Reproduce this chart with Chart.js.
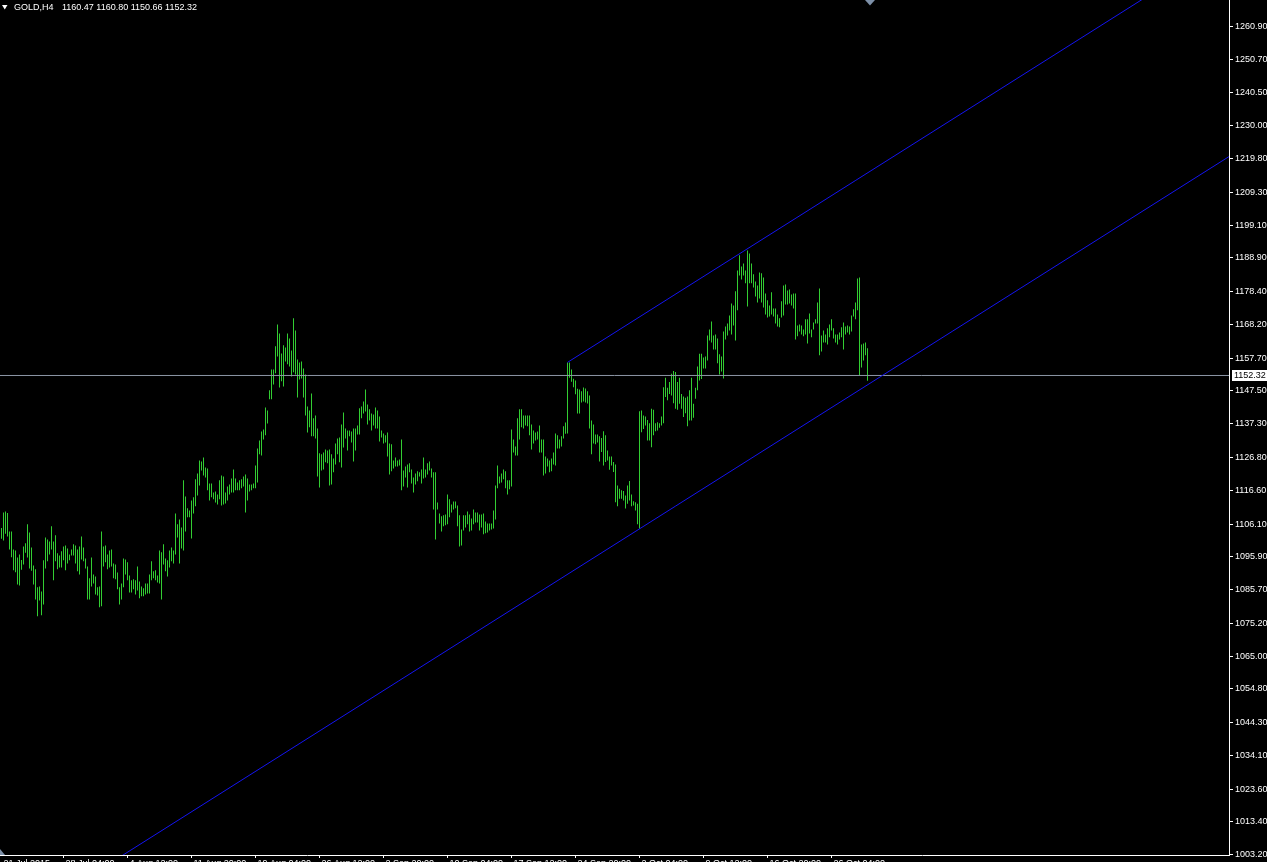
<!DOCTYPE html>
<html>
<head>
<meta charset="utf-8">
<style>
  html, body { margin: 0; padding: 0; background: #000; overflow: hidden; }
  #wrap { width: 1267px; height: 862px; }
</style>
<script src="https://cdn.jsdelivr.net/npm/chart.js@4.4.1/dist/chart.umd.min.js"></script>
</head>
<body>
<div id="wrap"><canvas id="chart" width="1267" height="862"></canvas></div>
<script>
const symbol = 'GOLD,H4';
const lastBar = [1160.47, 1160.80, 1150.66, 1152.32]; // open, high, low, close

// H4 bar highs / lows, oldest first
const highs = [
  1104.9,1109.7,1110.0,1109.5,1103.8,1103.8,1098.2,1097.9,1095.7,1096.6,
  1094.9,1099.1,1100.1,1106.0,1103.5,1098.8,1093.2,1092.0,1086.4,1086.7,
  1085.1,1094.8,1101.9,1101.3,1100.7,1105.4,1100.7,1102.6,1097.0,1096.3,
  1097.6,1099.1,1099.4,1098.5,1096.6,1098.2,1099.8,1099.4,1098.2,1099.1,
  1102.2,1098.8,1095.4,1092.9,1089.2,1095.7,1090.4,1089.8,1086.4,1086.7,
  1103.8,1099.1,1099.4,1096.6,1097.9,1098.2,1093.8,1093.5,1091.0,1086.4,
  1087.6,1095.4,1095.1,1094.2,1090.1,1088.6,1088.9,1088.6,1092.9,1088.2,
  1086.7,1086.1,1087.6,1087.6,1090.4,1094.5,1091.4,1091.7,1090.1,1097.9,
  1097.3,1099.8,1095.4,1094.8,1097.9,1098.8,1097.9,1109.4,1106.0,1107.5,
  1105.0,1119.7,1114.7,1111.0,1110.3,1113.4,1114.4,1120.0,1121.8,1125.9,
  1125.6,1126.8,1123.7,1123.4,1118.7,1118.7,1115.9,1116.2,1115.3,1119.7,
  1121.2,1120.9,1115.9,1117.8,1118.4,1120.3,1123.1,1120.3,1119.0,1119.7,
  1120.0,1120.9,1121.5,1120.3,1118.4,1118.4,1118.7,1124.3,1129.6,1132.1,
  1134.9,1135.5,1142.4,1141.4,1147.7,1154.2,1154.2,1161.4,1168.2,1165.4,
  1159.2,1161.7,1161.0,1165.4,1163.8,1160.1,1170.1,1166.3,1157.3,1156.4,
  1156.7,1154.5,1152.6,1142.7,1141.4,1146.7,1139.0,1139.9,1135.8,1128.1,
  1127.8,1128.4,1129.3,1129.0,1129.3,1127.8,1126.5,1131.2,1132.7,1133.0,
  1137.1,1140.8,1135.8,1135.2,1135.2,1134.9,1135.8,1135.8,1136.8,1142.1,
  1142.7,1144.2,1148.0,1143.3,1141.8,1140.5,1140.2,1142.4,1141.4,1139.6,
  1135.2,1134.3,1133.7,1134.6,1131.2,1130.9,1125.9,1126.8,1125.9,1126.2,
  1132.4,1122.8,1124.0,1124.6,1125.0,1123.1,1120.6,1121.8,1122.5,1122.2,
  1123.1,1126.8,1123.1,1125.0,1125.6,1123.4,1122.2,1122.2,1112.8,1109.4,
  1108.5,1108.8,1109.1,1115.3,1113.8,1112.2,1113.1,1113.1,1111.9,1108.8,
  1104.4,1108.8,1108.8,1110.0,1109.1,1107.8,1110.6,1109.7,1109.7,1109.1,
  1109.1,1109.4,1106.9,1106.3,1106.3,1106.3,1110.3,1118.1,1124.3,1120.9,
  1121.8,1123.1,1122.5,1119.7,1119.7,1135.5,1132.4,1130.2,1139.0,1141.8,
  1141.8,1139.9,1139.9,1139.9,1139.9,1137.1,1135.2,1134.6,1134.9,1136.8,
  1132.4,1132.4,1127.1,1126.5,1125.9,1126.5,1128.4,1134.3,1133.7,1132.4,
  1133.4,1136.5,1137.7,1156.4,1156.4,1154.2,1151.3,1150.8,1148.2,1148.0,
  1147.4,1148.6,1148.3,1147.4,1146.1,1138.3,1137.1,1134.0,1134.0,1133.4,
  1132.9,1135.0,1133.7,1129.0,1127.1,1127.1,1125.4,1124.6,1118.1,1117.1,
  1116.6,1116.4,1115.0,1118.1,1119.5,1115.3,1113.2,1112.9,1112.4,1141.2,
  1141.4,1139.9,1139.6,1138.5,1137.5,1142.0,1141.7,1137.5,1137.8,1137.5,
  1139.6,1148.7,1151.6,1148.5,1150.3,1152.9,1153.7,1153.4,1150.3,1151.6,
  1146.6,1145.8,1145.4,1145.8,1147.7,1151.6,1143.5,1148.5,1155.1,1159.1,
  1159.1,1157.9,1158.2,1164.8,1166.6,1169.1,1164.8,1165.1,1163.8,1158.9,
  1158.2,1166.0,1167.6,1168.5,1171.0,1174.7,1174.1,1178.5,1185.0,1189.7,
  1186.2,1187.2,1185.0,1191.2,1190.3,1187.2,1183.8,1181.6,1180.3,1184.4,
  1184.1,1182.8,1177.8,1175.7,1174.1,1178.2,1173.2,1173.2,1171.3,1170.1,
  1175.4,1180.3,1180.6,1178.8,1179.1,1177.5,1177.8,1177.8,1167.9,1168.2,
  1167.9,1166.6,1169.8,1169.8,1171.6,1166.6,1168.8,1169.8,1175.0,1179.4,
  1164.8,1166.3,1165.1,1167.0,1168.2,1169.8,1167.0,1165.1,1165.1,1165.7,
  1167.3,1168.8,1167.6,1167.9,1167.6,1171.0,1172.9,1175.0,1182.5,1182.8,
  1162.0,1162.3,1162.6,1160.8
];
const lows = [
  1101.5,1101.0,1103.1,1102.2,1098.2,1095.8,1091.7,1091.1,1087.3,1087.0,
  1091.9,1093.5,1097.2,1095.7,1092.3,1091.6,1087.3,1082.6,1077.4,1082.3,
  1077.7,1081.1,1092.3,1094.5,1096.6,1098.2,1088.6,1094.5,1092.0,1092.6,
  1092.6,1094.8,1091.7,1093.8,1094.8,1096.3,1096.3,1093.8,1091.4,1090.4,
  1095.1,1094.5,1092.3,1082.6,1082.6,1086.7,1087.6,1084.2,1083.9,1080.2,
  1080.5,1092.9,1094.2,1092.0,1092.6,1092.9,1089.2,1088.9,1085.8,1081.1,
  1082.6,1086.4,1090.4,1088.6,1084.8,1084.8,1085.8,1084.2,1085.4,1083.0,
  1083.6,1083.6,1084.2,1084.5,1084.5,1088.6,1089.2,1088.6,1087.9,1087.6,
  1082.6,1093.5,1091.4,1089.8,1092.6,1094.5,1093.8,1096.6,1101.9,1093.8,
  1098.5,1097.9,1103.8,1108.2,1108.2,1101.6,1109.4,1111.6,1115.0,1118.1,
  1122.8,1121.2,1120.6,1116.6,1113.4,1114.4,1113.8,1112.8,1112.2,1113.8,
  1111.9,1112.2,1112.5,1113.4,1115.3,1115.9,1115.9,1116.6,1116.6,1116.6,
  1117.2,1117.8,1109.7,1113.4,1116.2,1116.6,1117.2,1117.2,1119.0,1127.8,
  1127.4,1132.4,1133.7,1137.4,1144.9,1144.9,1149.5,1153.0,1158.2,1148.6,
  1150.5,1148.9,1156.7,1155.8,1155.1,1152.0,1153.3,1152.6,1145.5,1151.1,
  1151.4,1145.5,1139.9,1134.6,1136.2,1133.4,1133.4,1132.7,1120.9,1117.5,
  1122.8,1123.1,1125.3,1125.0,1118.1,1118.4,1122.2,1124.6,1127.8,1125.3,
  1123.7,1129.9,1132.7,1129.0,1133.4,1131.5,1125.6,1129.0,1134.0,1134.0,
  1139.0,1140.5,1141.1,1137.1,1138.3,1135.2,1136.8,1135.8,1135.8,1131.8,
  1133.0,1131.2,1131.5,1127.1,1121.5,1122.5,1123.4,1124.0,1124.0,1124.3,
  1116.6,1117.8,1120.6,1117.5,1122.2,1118.7,1115.9,1118.4,1119.4,1120.9,
  1118.7,1120.3,1120.6,1121.5,1122.8,1120.6,1110.6,1101.3,1110.6,1106.3,
  1103.8,1105.4,1105.7,1106.0,1108.2,1109.7,1110.6,1111.0,1105.4,1099.1,
  1099.4,1104.1,1105.0,1106.0,1103.8,1104.1,1106.0,1106.6,1106.6,1104.1,
  1105.0,1102.9,1103.2,1103.5,1104.1,1104.4,1104.7,1107.5,1117.2,1118.7,
  1119.0,1120.0,1117.2,1115.3,1116.9,1117.8,1128.4,1127.4,1127.4,1132.4,
  1136.2,1135.8,1136.8,1136.5,1133.7,1129.3,1131.2,1132.1,1132.4,1128.4,
  1128.4,1121.2,1121.8,1124.0,1122.2,1122.5,1124.6,1124.3,1129.6,1129.6,
  1130.2,1132.7,1134.2,1134.3,1151.6,1150.4,1148.7,1146.5,1140.5,1140.5,
  1143.9,1144.2,1143.9,1143.6,1135.8,1127.8,1131.2,1130.9,1131.5,1125.6,
  1128.5,1124.3,1125.4,1125.9,1123.0,1124.3,1122.3,1112.9,1111.6,1114.0,
  1114.0,1113.4,1110.9,1112.4,1113.4,1111.6,1111.9,1110.3,1106.0,1104.6,
  1134.7,1135.7,1136.8,1132.1,1132.1,1130.0,1133.7,1135.0,1135.2,1136.1,
  1136.8,1137.5,1145.6,1144.6,1146.6,1146.1,1143.7,1142.0,1141.7,1143.5,
  1142.0,1139.4,1140.6,1136.5,1138.3,1138.3,1139.2,1145.1,1147.7,1150.8,
  1151.2,1154.5,1154.5,1157.0,1163.2,1162.6,1160.4,1160.4,1156.1,1152.6,
  1153.6,1151.4,1163.5,1164.8,1166.3,1165.1,1167.9,1163.2,1172.6,1183.4,
  1182.2,1183.4,1181.0,1173.8,1181.0,1181.0,1179.7,1176.9,1175.0,1176.3,
  1175.0,1173.5,1171.3,1170.4,1170.7,1171.3,1170.7,1168.5,1167.6,1167.3,
  1170.4,1171.0,1174.4,1174.4,1174.7,1174.1,1173.2,1163.5,1164.5,1166.0,
  1165.1,1164.5,1165.1,1162.3,1165.4,1164.2,1166.6,1168.5,1168.5,1158.6,
  1159.8,1162.6,1162.6,1162.0,1164.2,1166.3,1163.8,1162.6,1162.0,1163.5,
  1164.2,1160.4,1165.1,1165.7,1165.1,1166.0,1170.7,1169.8,1172.6,1152.3,
  1154.8,1157.0,1158.6,1150.7
];

const yTicks = [
  1260.90, 1250.70, 1240.50, 1230.00, 1219.80, 1209.30, 1199.10, 1188.90, 1178.40,
  1168.20, 1157.70, 1147.50, 1137.30, 1126.80, 1116.60, 1106.10, 1095.90, 1085.70,
  1075.20, 1065.00, 1054.80, 1044.30, 1034.10, 1023.60, 1013.40, 1003.20
];
const xTickBars = [0, 31, 63, 95, 127, 159, 191, 223, 255, 287, 319, 351, 383, 415];
const xTickLabels = [
  '21 Jul 2015', '28 Jul 04:00', '4 Aug 12:00', '11 Aug 20:00', '19 Aug 04:00',
  '26 Aug 12:00', '2 Sep 20:00', '10 Sep 04:00', '17 Sep 12:00', '24 Sep 20:00',
  '2 Oct 04:00', '9 Oct 12:00', '16 Oct 20:00', '26 Oct 04:00'
];

// equidistant channel: two anchors on the lower line, one on the upper line [bar, price]
const channelBase = [[319, 1104.6], [433, 1149.4]];
const channelTop = [283, 1156.4];

const xRange = [-0.75, 613.75];
const yRange = [1003.13, 1269.15];

const BAR = '#32cd32';
const CHANNEL = '#1414f0';
const BIDLINE = '#8c96a5';
const FONT = { family: 'Liberation Sans', size: 9 };

Chart.defaults.font = { ...FONT };

function channelLine(anchor, fromX) {
  const slope = (channelBase[1][1] - channelBase[0][1]) / (channelBase[1][0] - channelBase[0][0]);
  const at = (x) => anchor[1] + slope * (x - anchor[0]);
  return [{ x: fromX, y: at(fromX) }, { x: xRange[1], y: at(xRange[1]) }];
}

const overlay = {
  id: 'overlay',
  afterDraw(chart) {
    const { ctx, chartArea, scales: { x, y } } = chart;
    ctx.save();
    ctx.font = `${FONT.size}px "${FONT.family}"`;
    ctx.textBaseline = 'middle';
    ctx.textAlign = 'left';

    // header
    ctx.fillStyle = '#fff';
    ctx.beginPath();
    ctx.moveTo(2, 5); ctx.lineTo(7.5, 5); ctx.lineTo(4.75, 9.5); ctx.closePath(); ctx.fill();
    ctx.fillText(symbol, 14, 8);
    ctx.fillText(lastBar.map((v) => v.toFixed(2)).join(' '), 62, 8);

    // time labels under the axis (mostly cut off by the window edge)
    xTickBars.forEach((b, i) => {
      ctx.fillText(xTickLabels[i], x.getPixelForValue(b) + 2, chartArea.bottom + 8.5);
    });

    // bid price label on the axis
    const py = Math.round(y.getPixelForValue(lastBar[3]));
    ctx.fillRect(chartArea.right + 3, py - 5, 40, 11);
    ctx.fillStyle = '#000';
    ctx.fillText(lastBar[3].toFixed(2), chartArea.right + 5, py + 0.5);

    // chart shift / scale markers
    ctx.fillStyle = '#7d90a8';
    ctx.beginPath();
    ctx.moveTo(865, 0); ctx.lineTo(875, 0); ctx.lineTo(870, 5.5); ctx.closePath(); ctx.fill();
    ctx.beginPath();
    ctx.moveTo(0, chartArea.bottom - 6); ctx.lineTo(0, chartArea.bottom); ctx.lineTo(5, chartArea.bottom); ctx.closePath(); ctx.fill();
    ctx.restore();
  },
};

const bars = highs.map((h, i) => ({ x: i, y: [lows[i], h] }));

new Chart(document.getElementById('chart'), {
  type: 'bar',
  data: {
    datasets: [
      {
        type: 'line',
        data: [{ x: xRange[0], y: lastBar[3] }, { x: xRange[1], y: lastBar[3] }],
        borderColor: BIDLINE, borderWidth: 1, pointRadius: 0, order: 1,
      },
      {
        type: 'line', data: channelLine(channelBase[0], xRange[0]),
        borderColor: CHANNEL, borderWidth: 1, pointRadius: 0, order: 0,
      },
      {
        type: 'line', data: channelLine(channelTop, channelTop[0]),
        borderColor: CHANNEL, borderWidth: 1, pointRadius: 0, order: 0,
      },
      {
        type: 'bar', data: bars, backgroundColor: BAR, borderWidth: 0,
        barThickness: 1, inflateAmount: 0, grouped: false, order: 2,
      },
    ],
  },
  options: {
    responsive: false,
    devicePixelRatio: 1,
    animation: false,
    events: [],
    layout: { padding: 0 },
    plugins: { legend: { display: false }, tooltip: { enabled: false } },
    scales: {
      x: {
        type: 'linear', position: 'bottom', offset: false, min: xRange[0], max: xRange[1],
        afterBuildTicks: (s) => { s.ticks = xTickBars.map((v) => ({ value: v })); },
        afterFit: (s) => { s.height = 7; },
        ticks: { display: false },
        grid: {
          offset: false, drawOnChartArea: false, tickLength: 3,
          tickColor: (c) => (c.index === 0 ? 'rgba(0,0,0,0)' : '#fff'),
        },
        border: { color: '#fff', width: 1 },
      },
      y: {
        type: 'linear', position: 'right', min: yRange[0], max: yRange[1],
        afterBuildTicks: (s) => { s.ticks = yTicks.map((v) => ({ value: v })); },
        afterFit: (s) => { s.width = 38; s.paddingTop = 0; s.paddingBottom = 0; },
        ticks: { color: '#fff', padding: 2, autoSkip: false, callback: (v) => v.toFixed(2) },
        grid: { drawOnChartArea: false, tickLength: 4, tickColor: '#fff' },
        border: { color: '#fff', width: 1 },
      },
    },
  },
  plugins: [overlay],
});
</script>
</body>
</html>
